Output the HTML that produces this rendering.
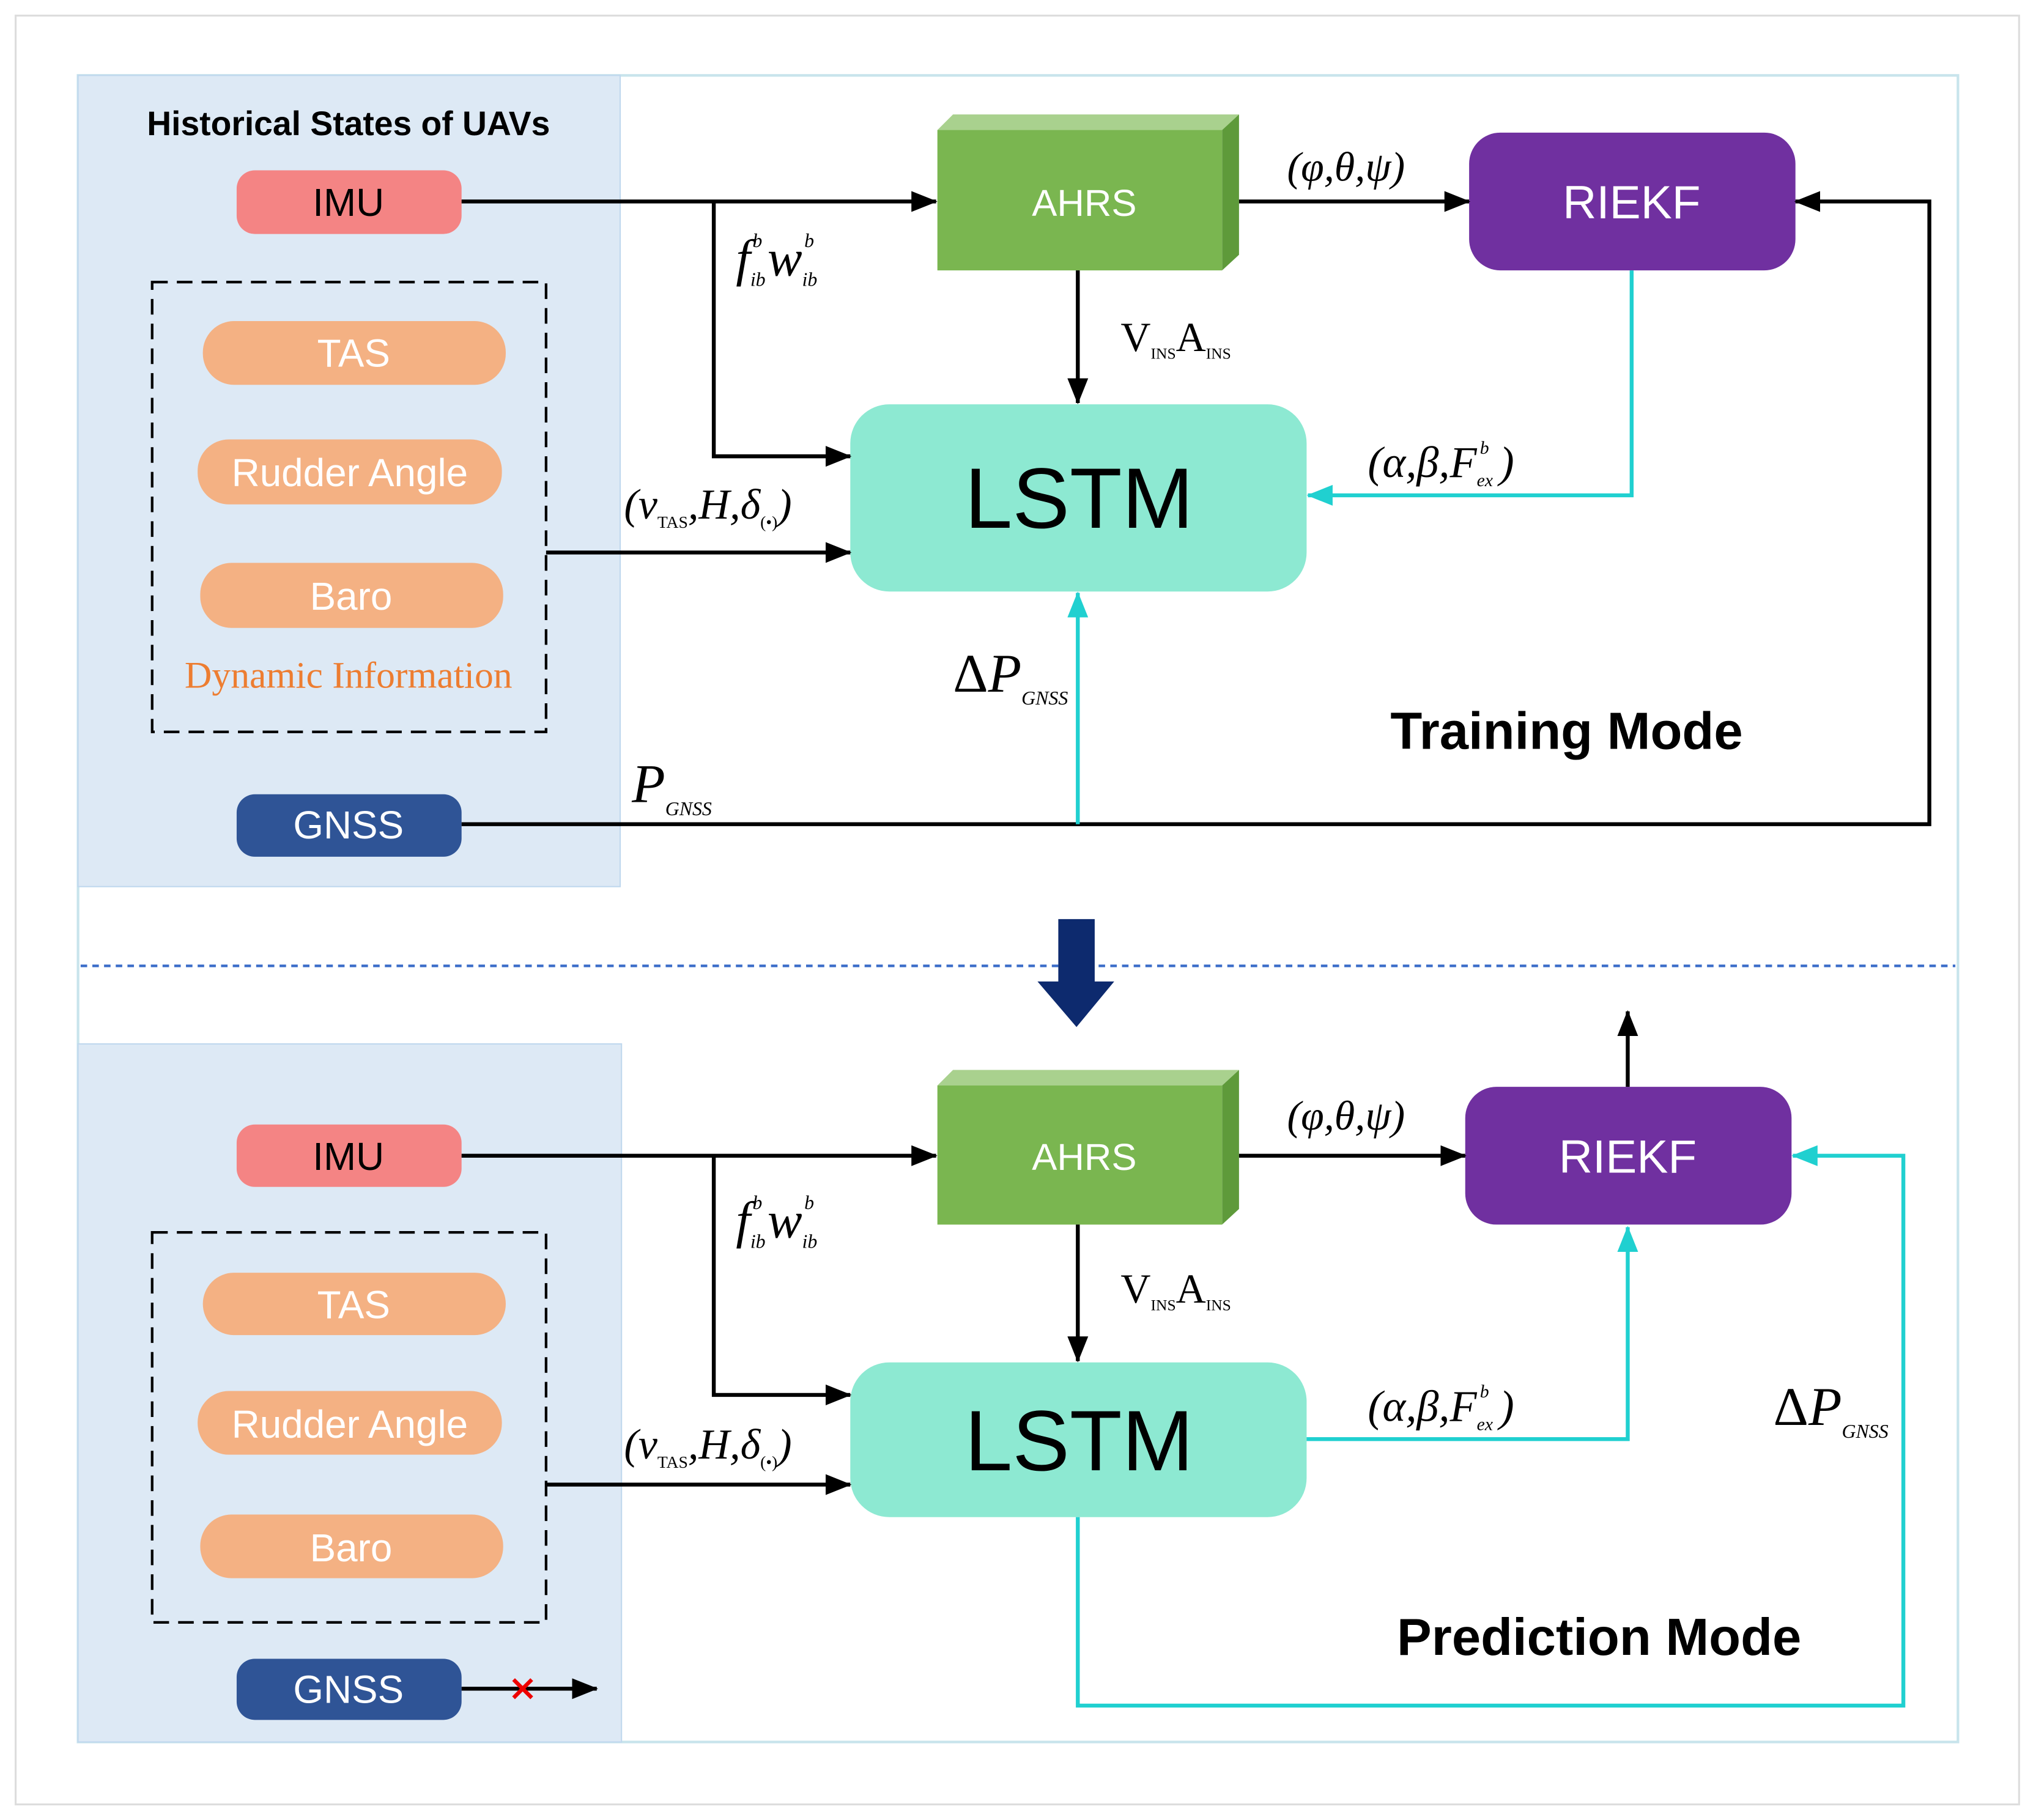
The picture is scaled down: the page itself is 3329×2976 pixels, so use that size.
<!DOCTYPE html>
<html><head><meta charset="utf-8"><style>
html,body{margin:0;padding:0;background:#fff}
svg{display:block}
.s{font-family:"Liberation Sans",sans-serif}
.m{font-family:"Liberation Serif",serif;font-style:italic}
</style></head><body>
<svg width="3329" height="2976" viewBox="0 0 1566 1400" xmlns="http://www.w3.org/2000/svg">
<defs>
<marker id="ab" markerWidth="20" markerHeight="16" refX="19" refY="8" orient="auto" markerUnits="userSpaceOnUse" viewBox="0 0 20 16"><path d="M0,0L20,8L0,16z" fill="#000"/></marker>
<marker id="ac" markerWidth="20" markerHeight="16" refX="19" refY="8" orient="auto" markerUnits="userSpaceOnUse" viewBox="0 0 20 16"><path d="M0,0L20,8L0,16z" fill="#20d0d0"/></marker>
</defs>
<rect x="0" y="0" width="1566" height="1400" fill="#fff"/>
<rect x="12" y="12" width="1541" height="1376" fill="none" stroke="#ddd" stroke-width="1.5"/>
<rect x="60" y="58" width="1446" height="1282" fill="none" stroke="#c8e4ec" stroke-width="2"/>
<rect x="60" y="58" width="417" height="624" fill="#dde9f5" stroke="#c0d8ee"/>
<rect x="60" y="803" width="418" height="537" fill="#dde9f5" stroke="#c0d8ee"/>
<line x1="62" y1="743" x2="1504" y2="743" stroke="#3a6cc8" stroke-width="2" stroke-dasharray="5,4"/>
<path d="M814,707 L842,707 L842,755 L857,755 L828,790 L798,755 L814,755 Z" fill="#0d2a6e"/>

<g class="s" text-anchor="middle">
<text x="268" y="104" font-size="26" font-weight="bold">Historical States of UAVs</text>
<rect x="182" y="131" width="173" height="49" rx="14" fill="#f48484"/>
<text x="268" y="166" font-size="30">IMU</text>
<rect x="117" y="217" width="303" height="346" fill="none" stroke="#000" stroke-width="2" stroke-dasharray="12,7"/>
<rect x="156" y="247" width="233" height="49" rx="24" fill="#f4b183"/><text x="272" y="282" font-size="30" fill="#fff">TAS</text>
<rect x="152" y="338" width="234" height="50" rx="24" fill="#f4b183"/><text x="269" y="374" font-size="30" fill="#fff">Rudder Angle</text>
<rect x="154" y="433" width="233" height="50" rx="24" fill="#f4b183"/><text x="270" y="469" font-size="30" fill="#fff">Baro</text>
<text x="268" y="529" font-size="29" fill="#ed7d31" font-family="Liberation Serif,serif">Dynamic Information</text>
<rect x="182" y="611" width="173" height="48" rx="14" fill="#2f5496"/><text x="268" y="645" font-size="30" fill="#fff">GNSS</text>
<polygon points="721,100 733,88 953,88 940,100" fill="#a9d18e"/>
<polygon points="940,100 953,88 953,196 940,208" fill="#5e9a3a"/>
<rect x="721" y="100" width="219" height="108" fill="#7ab650"/>
<text x="834" y="166" font-size="29" fill="#fff">AHRS</text>
<rect x="1130" y="102" width="251" height="106" rx="24" fill="#7030a0"/><text x="1255" y="168" font-size="36" fill="#fff">RIEKF</text>
<rect x="654" y="311" width="351" height="144" rx="30" fill="#8de9d2"/><text x="830" y="406" font-size="66">LSTM</text>
<text x="1205" y="576" font-size="40" font-weight="bold">Training Mode</text>
<rect x="182" y="865" width="173" height="48" rx="14" fill="#f48484"/><text x="268" y="900" font-size="30">IMU</text>
<rect x="117" y="948" width="303" height="300" fill="none" stroke="#000" stroke-width="2" stroke-dasharray="12,7"/>
<rect x="156" y="979" width="233" height="48" rx="24" fill="#f4b183"/><text x="272" y="1014" font-size="30" fill="#fff">TAS</text>
<rect x="152" y="1070" width="234" height="49" rx="24" fill="#f4b183"/><text x="269" y="1106" font-size="30" fill="#fff">Rudder Angle</text>
<rect x="154" y="1165" width="233" height="49" rx="24" fill="#f4b183"/><text x="270" y="1201" font-size="30" fill="#fff">Baro</text>
<rect x="182" y="1276" width="173" height="47" rx="14" fill="#2f5496"/><text x="268" y="1310" font-size="30" fill="#fff">GNSS</text>
<polygon points="721,835 733,823 953,823 940,835" fill="#a9d18e"/>
<polygon points="940,835 953,823 953,930 940,942" fill="#5e9a3a"/>
<rect x="721" y="835" width="219" height="107" fill="#7ab650"/>
<text x="834" y="900" font-size="29" fill="#fff">AHRS</text>
<rect x="1127" y="836" width="251" height="106" rx="24" fill="#7030a0"/><text x="1252" y="902" font-size="36" fill="#fff">RIEKF</text>
<rect x="654" y="1048" width="351" height="119" rx="30" fill="#8de9d2"/><text x="830" y="1131" font-size="66">LSTM</text>
<text x="1230" y="1273" font-size="40" font-weight="bold">Prediction Mode</text>
</g>

<g fill="none" stroke="#000" stroke-width="3">
<path d="M355,155 H720" marker-end="url(#ab)"/>
<path d="M549,155 V351 H654" marker-end="url(#ab)"/>
<path d="M953,155 H1130" marker-end="url(#ab)"/>
<path d="M829,208 V310" marker-end="url(#ab)"/>
<path d="M420,425 H654" marker-end="url(#ab)"/>
<path d="M355,634 H1484 V155 H1381" marker-end="url(#ab)"/>
<path d="M355,889 H720" marker-end="url(#ab)"/>
<path d="M549,889 V1073 H654" marker-end="url(#ab)"/>
<path d="M420,1142 H654" marker-end="url(#ab)"/>
<path d="M953,889 H1127" marker-end="url(#ab)"/>
<path d="M829,942 V1047" marker-end="url(#ab)"/>
<path d="M1252,836 V778" marker-end="url(#ab)"/>
<path d="M355,1299 H459" marker-end="url(#ab)"/>
</g>
<g fill="none" stroke="#20d0d0" stroke-width="3">
<path d="M1255,208 V381 H1006" marker-end="url(#ac)"/>
<path d="M829,634 V456" marker-end="url(#ac)"/>
<path d="M1005,1107 H1252 V944" marker-end="url(#ac)"/>
<path d="M829,1167 V1312 H1464 V889 H1379" marker-end="url(#ac)"/>
</g>
<g stroke="#e00" stroke-width="3"><line x1="395" y1="1292" x2="409" y2="1306"/><line x1="409" y1="1292" x2="395" y2="1306"/></g>

<g class="m" font-size="32">
<text x="990" y="139">(φ,θ,ψ)</text>
<text x="990" y="869">(φ,θ,ψ)</text>
<text x="566" y="212" font-size="40">f<tspan font-size="15" dy="8">ib</tspan><tspan font-size="15" dx="-10" dy="-30">b</tspan><tspan font-size="40" dx="4" dy="22">w</tspan><tspan font-size="15" dy="8">ib</tspan><tspan font-size="15" dx="-10" dy="-30">b</tspan></text>
<text x="566" y="952" font-size="40">f<tspan font-size="15" dy="8">ib</tspan><tspan font-size="15" dx="-10" dy="-30">b</tspan><tspan font-size="40" dx="4" dy="22">w</tspan><tspan font-size="15" dy="8">ib</tspan><tspan font-size="15" dx="-10" dy="-30">b</tspan></text>
<text x="862" y="270" font-style="normal">V<tspan font-size="12" dy="6">INS</tspan><tspan dy="-6">A</tspan><tspan font-size="12" dy="6">INS</tspan></text>
<text x="862" y="1002" font-style="normal">V<tspan font-size="12" dy="6">INS</tspan><tspan dy="-6">A</tspan><tspan font-size="12" dy="6">INS</tspan></text>
<text x="1052" y="367" font-size="34">(α,β,F<tspan font-size="14" dy="7">ex</tspan><tspan font-size="14" dx="-10" dy="-25">b</tspan><tspan dx="8" dy="18">)</tspan></text>
<text x="1052" y="1093" font-size="34">(α,β,F<tspan font-size="14" dy="7">ex</tspan><tspan font-size="14" dx="-10" dy="-25">b</tspan><tspan dx="8" dy="18">)</tspan></text>
<text x="480" y="399" font-size="33">(v<tspan font-size="13" font-style="normal" dy="7">TAS</tspan><tspan dy="-7">,H,δ</tspan><tspan font-size="13" font-style="normal" dy="7">(•)</tspan><tspan dy="-7">)</tspan></text>
<text x="480" y="1122" font-size="33">(v<tspan font-size="13" font-style="normal" dy="7">TAS</tspan><tspan dy="-7">,H,δ</tspan><tspan font-size="13" font-style="normal" dy="7">(•)</tspan><tspan dy="-7">)</tspan></text>
<text x="733" y="532" font-size="42"><tspan font-style="normal">Δ</tspan>P<tspan font-size="15" dy="10">GNSS</tspan></text>
<text x="1364" y="1096" font-size="42"><tspan font-style="normal">Δ</tspan>P<tspan font-size="15" dy="10">GNSS</tspan></text>
<text x="486" y="617" font-size="42">P<tspan font-size="15" dy="10">GNSS</tspan></text>
</g>
</svg>
</body></html>
